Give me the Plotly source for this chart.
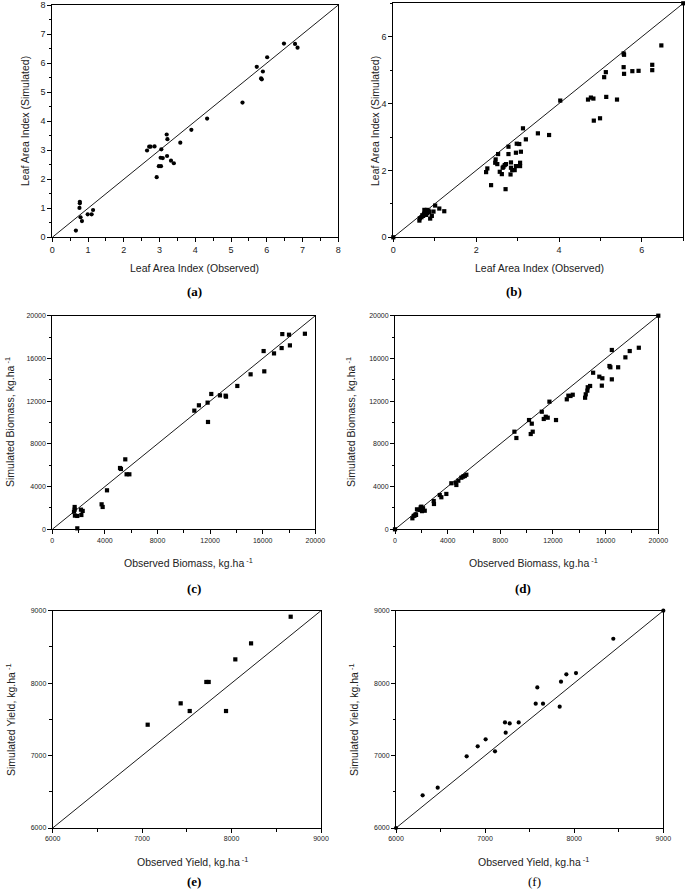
import plotly.graph_objects as go

W, H = 685, 889

# ---------------- data ----------------
# (a) Leaf Area Index
a_obs = [0.66, 0.77, 0.77, 0.76, 0.79, 0.83, 0.99, 1.10, 1.14, 2.65, 2.71, 2.75, 2.86, 2.92, 2.98,
         3.04, 3.05, 3.03, 3.09, 3.20, 3.22, 3.21, 3.32, 3.40, 3.58, 3.89, 4.33, 5.32, 5.72, 5.84,
         5.86, 5.89, 6.01, 6.48, 6.79, 6.86]
a_sim = [0.23, 1.22, 1.17, 1.01, 0.69, 0.56, 0.79, 0.79, 0.94, 2.99, 3.12, 3.12, 3.13, 2.07, 2.45,
         2.45, 3.03, 2.74, 2.73, 3.54, 3.38, 2.80, 2.64, 2.55, 3.26, 3.70, 4.09, 4.64, 5.87, 5.47,
         5.44, 5.71, 6.20, 6.67, 6.66, 6.53]

# (b) Leaf Area Index
b_obs = [0.0, 0.63, 0.64, 0.68, 0.72, 0.75, 0.79, 0.82, 0.85, 0.81, 0.87, 0.89, 0.93, 0.97, 1.01,
         1.11, 1.23, 0.76, 0.70, 0.74,
         3.13, 3.49, 3.76, 3.20, 2.98, 3.04, 2.78, 3.08, 2.96, 2.78, 2.53, 2.47, 2.46, 2.51, 2.27,
         2.24, 2.57, 2.62, 2.64, 2.69, 2.72, 2.66, 2.84, 2.84, 2.87, 2.93, 2.96, 3.06, 3.06, 2.83,
         2.36, 2.71,
         4.03, 4.70, 4.77, 4.83, 4.84, 4.99, 5.09, 5.13, 5.14, 5.40, 5.56, 5.57, 5.56, 5.57, 5.77,
         5.92, 6.25, 6.25, 6.47, 7.0]
b_sim = [0.0, 0.50, 0.57, 0.60, 0.64, 0.82, 0.67, 0.72, 0.80, 0.82, 0.76, 0.56, 0.64, 0.77, 0.95,
         0.86, 0.78, 0.72, 0.66, 0.70,
         3.26, 3.11, 3.06, 2.93, 2.80, 2.79, 2.71, 2.56, 2.53, 2.49, 2.49, 2.33, 2.23, 2.19, 2.06,
         1.95, 1.96, 1.89, 2.08, 2.16, 2.19, 2.11, 2.24, 2.08, 2.01, 2.01, 2.13, 2.23, 2.13, 1.88,
         1.56, 1.44,
         4.09, 4.12, 4.18, 4.15, 3.49, 3.56, 4.79, 4.94, 4.20, 4.12, 5.50, 5.46, 5.09, 4.89, 4.97,
         4.98, 5.16, 5.00, 5.74, 7.0]

# (c) Biomass, kg/ha
c_obs = [1700, 1700, 1650, 1720, 1900, 1900, 2180, 2310, 2210, 3750, 3830, 4160, 5150, 5220, 5550,
         5650, 5860, 10800, 11150, 11810, 11840, 12090, 12750, 13180, 13210, 14070, 15080, 16070,
         16120, 16860, 17440, 17490, 18000, 18070, 19210]
c_sim = [2090, 1840, 1650, 1280, 1250, 90, 1840, 1720, 1340, 2340, 2090, 3650, 5740, 5650, 6550,
         5150, 5150, 11110, 11610, 11860, 10050, 12670, 12540, 12510, 12420, 13420, 14510, 16690,
         14790, 16470, 16970, 18280, 18220, 17220, 18310]

# (d) Biomass, kg/ha
d_obs = [0, 1320, 1420, 1570, 1670, 1880, 2000, 2130, 2260, 2050, 1500, 1600, 1950, 2940, 2960,
         3400, 3520, 3900, 4280, 4610, 4660, 4810, 5040, 5170, 5300, 5420,
         9070, 9220, 10180, 10390, 10310, 10460, 11150, 11300, 11450, 11600, 11730, 12230, 13050,
         13170, 13330, 13500, 14440, 14490, 14610, 14640, 14820, 15050, 15520, 15750, 15710,
         16290, 16360, 16470, 16470, 16950, 17500, 17830, 18520, 20000]
d_sim = [0, 1030, 1250, 1400, 1870, 1810, 2120, 1970, 1740, 1700, 1300, 1350, 2050, 2650, 2370,
         3210, 3000, 3310, 4310, 4360, 4150, 4550, 4830, 4930, 4990, 5110,
         9140, 8550, 10230, 9890, 8920, 9140, 11010, 10330, 10540, 10450, 11950, 10230, 12170,
         12510, 12480, 12600, 12320, 12640, 12980, 13300, 13420, 14660, 14290, 14140, 13450,
         15290, 15170, 14040, 16790, 15170, 16100, 16690, 17000, 20000]

# (e) Yield, kg/ha
e_obs = [7062, 7431, 7532, 7718, 7744, 7938, 8042, 8218, 8661]
e_sim = [7426, 7721, 7615, 8016, 8016, 7615, 8328, 8549, 8917]

# (f) Yield, kg/ha
f_obs = [6000, 6299, 6468, 6793, 6917, 7006, 7111, 7223, 7231, 7276, 7377, 7568, 7586, 7650,
         7837, 7852, 7912, 8020, 8439, 9000]
f_sim = [6000, 6451, 6557, 6990, 7127, 7224, 7058, 7458, 7316, 7444, 7458, 7716, 7941, 7716,
         7675, 8020, 8121, 8139, 8613, 9000]

# axis ranges (also used for the 1:1 lines)
lai_a_range = [0, 8]
lai_b_range = [0, 7]
bio_range = [0, 20000]
yld_range = [6000, 9000]

x_titles = ["Leaf Area Index (Observed)", "Leaf Area Index (Observed)",
            "Observed Biomass, kg.ha<sup> -1</sup>", "Observed Biomass, kg.ha<sup> -1</sup>",
            "Observed Yield, kg.ha<sup> -1</sup>", "Observed Yield, kg.ha<sup> -1</sup>"]
y_titles = ["Leaf Area Index (Simulated)", "Leaf Area Index (Simulated)",
            "Simulated Biomass, kg.ha<sup> -1</sup>", "Simulated Biomass, kg.ha<sup> -1</sup>",
            "Simulated Yield, kg.ha<sup> -1</sup>", "Simulated Yield, kg.ha<sup> -1</sup>"]
captions = ["<b>(a)</b>", "<b>(b)</b>", "<b>(c)</b>", "<b>(d)</b>", "<b>(e)</b>", "(f)"]

# ---------------- layout specs (pixels) ----------------
panels = [
    dict(x=a_obs, y=a_sim, sym="circle", rng=lai_a_range, dtick=1, minor=0.5, tf=9,
         box=(52.3, 5, 338.3, 237.3), xt=(194, 268), yt=(25, 121), cap=(194, 292)),
    dict(x=b_obs, y=b_sim, sym="square", rng=lai_b_range, dtick=2, minor=1, tf=9,
         box=(393.3, 3.3, 683.3, 237.3), xt=(539, 268), yt=(375, 121), cap=(514, 292)),
    dict(x=c_obs, y=c_sim, sym="square", rng=bio_range, dtick=4000, minor=2000, tf=7,
         box=(52.3, 315.7, 315.3, 529.3), xt=(188, 562), yt=(9, 422), cap=(194, 588)),
    dict(x=d_obs, y=d_sim, sym="square", rng=bio_range, dtick=4000, minor=2000, tf=7,
         box=(395, 315.7, 658.3, 529.3), xt=(533, 562), yt=(350, 422), cap=(523, 588)),
    dict(x=e_obs, y=e_sim, sym="square", rng=yld_range, dtick=1000, minor=500, tf=7,
         box=(52.7, 610.7, 321, 828), xt=(192, 861), yt=(10, 720), cap=(194, 881)),
    dict(x=f_obs, y=f_sim, sym="circle", rng=yld_range, dtick=1000, minor=500, tf=7,
         box=(396, 610.7, 663.3, 828), xt=(533, 861), yt=(353, 720), cap=(534, 881)),
]

fig = go.Figure()
annotations = []
FONT = "Liberation Sans"
SERIF = "Liberation Serif"

for i, p in enumerate(panels):
    n = "" if i == 0 else str(i + 1)
    xa, ya = "x" + n, "y" + n
    x0, y0, x1, y1 = p["box"]
    fig.add_trace(go.Scatter(x=p["rng"], y=p["rng"], mode="lines",
                             line=dict(color="black", width=0.9),
                             xaxis=xa, yaxis=ya, showlegend=False, hoverinfo="skip",
                             cliponaxis=True))
    fig.add_trace(go.Scatter(x=p["x"], y=p["y"], mode="markers",
                             marker=dict(symbol=p["sym"], size=4.2, color="black",
                                         line=dict(width=0)),
                             xaxis=xa, yaxis=ya, showlegend=False, cliponaxis=False))
    common = dict(range=p["rng"], dtick=p["dtick"], tick0=p["rng"][0], showgrid=False,
                  zeroline=False, showline=True, linecolor="black", linewidth=1, mirror=True,
                  ticks="outside", ticklen=4, tickwidth=1, tickcolor="black",
                  tickformat="d", tickfont=dict(family=FONT, size=p["tf"], color="#222"),
                  minor=dict(dtick=p["minor"], ticks="outside", ticklen=2.5, tickcolor="black",
                             showgrid=False),
                  automargin=False, fixedrange=True)
    fig.layout["xaxis" + n] = dict(common, domain=[x0 / W, x1 / W], anchor=ya)
    fig.layout["yaxis" + n] = dict(common, domain=[1 - y1 / H, 1 - y0 / H], anchor=xa)

    annotations.append(dict(text=x_titles[i], x=p["xt"][0] / W, y=1 - p["xt"][1] / H,
                            xref="paper", yref="paper", showarrow=False,
                            xanchor="center", yanchor="middle",
                            font=dict(family=FONT, size=10.5, color="#222")))
    annotations.append(dict(text=y_titles[i], x=p["yt"][0] / W, y=1 - p["yt"][1] / H,
                            xref="paper", yref="paper", showarrow=False, textangle=-90,
                            xanchor="center", yanchor="middle",
                            font=dict(family=FONT, size=10.5, color="#222")))
    annotations.append(dict(text=captions[i], x=p["cap"][0] / W, y=1 - p["cap"][1] / H,
                            xref="paper", yref="paper", showarrow=False,
                            xanchor="center", yanchor="middle",
                            font=dict(family=SERIF, size=13, color="black")))

fig.update_layout(template="none", width=W, height=H, margin=dict(l=0, r=0, t=0, b=0),
                  paper_bgcolor="white", plot_bgcolor="white",
                  font=dict(family=FONT, color="#222"),
                  annotations=annotations, showlegend=False, hovermode=False)

fig.write_html("out.html", config={"displayModeBar": False, "staticPlot": True},
               post_script="document.body.style.margin='0';document.body.style.padding='0';"
                           "document.body.style.overflow='hidden';")
